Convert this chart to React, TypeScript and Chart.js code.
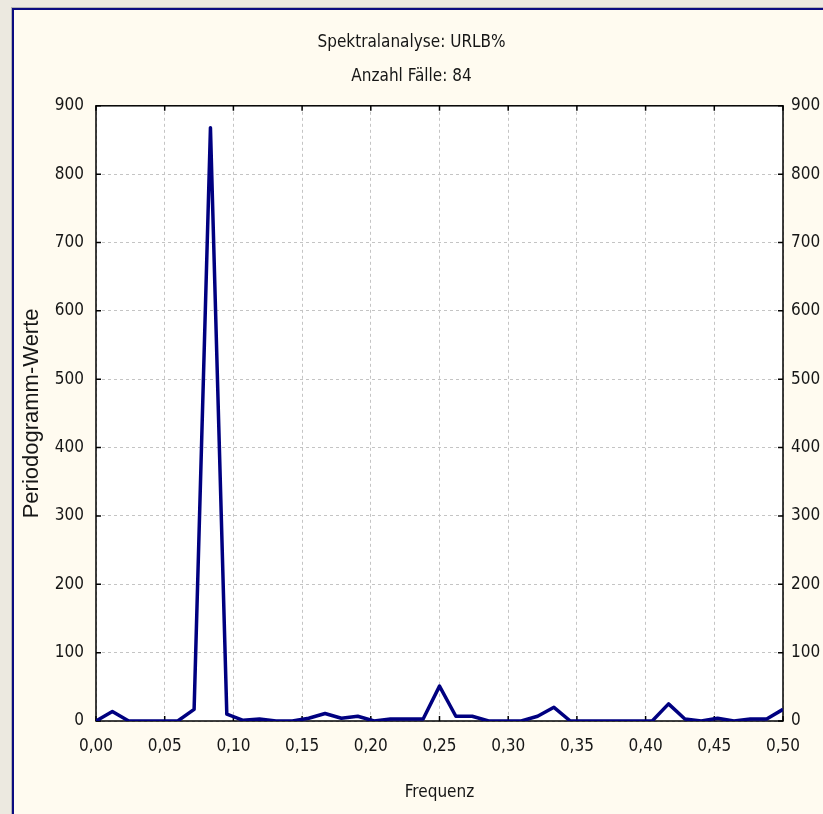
import React, { useEffect, useRef } from "react";
import { Chart, registerables } from "chart.js";

Chart.register(...registerables);

// Frequencies (k / 84, k = 0..42)
const frequencies: number[] = [
  0, 0.0119, 0.0238, 0.0357, 0.0476, 0.0595, 0.0714, 0.0833, 0.0952, 0.1071,
  0.119, 0.131, 0.1429, 0.1548, 0.1667, 0.1786, 0.1905, 0.2024, 0.2143, 0.2262,
  0.2381, 0.25, 0.2619, 0.2738, 0.2857, 0.2976, 0.3095, 0.3214, 0.3333, 0.3452,
  0.3571, 0.369, 0.381, 0.3929, 0.4048, 0.4167, 0.4286, 0.4405, 0.4524, 0.4643,
  0.4762, 0.4881, 0.5,
];

// Periodogram values
const periodogram: number[] = [
  0, 14, 0, 0, 0, 0, 17, 868, 10, 1,
  3, 0, 0, 4, 11, 4, 7, 0, 3, 3,
  3, 51, 7, 7, 0, 0, 0, 7, 20, 0,
  0, 0, 0, 0, 0, 25, 3, 0, 4, 0,
  3, 3, 17,
];

const titleText = "Spektralanalyse: URLB%";
const subtitleText = "Anzahl Fälle: 84";
const xTitle = "Frequenz";
const yTitle = "Periodogramm-Werte";

const NARROW = "'DejaVu Sans Condensed', 'Liberation Sans', sans-serif";
const REGULAR = "'Liberation Sans', Arial, sans-serif";
const TEXT = "#161616";
const FS = 17;

const framePlugin = {
  id: "frameTicks",
  beforeDraw(chart: any) {
    const { ctx, chartArea: a } = chart;
    ctx.save();
    ctx.fillStyle = "#ffffff";
    ctx.fillRect(a.left, a.top, a.right - a.left, a.bottom - a.top);
    ctx.restore();
  },
  beforeDatasetsDraw(chart: any) {
    const { ctx, chartArea: a, scales } = chart;
    ctx.save();
    ctx.strokeStyle = "#000000";
    ctx.lineWidth = 1.5;
    ctx.strokeRect(a.left, a.top, a.right - a.left, a.bottom - a.top);
    const L = 5;
    ctx.beginPath();
    scales.x.ticks.forEach((t: any) => {
      const px = scales.x.getPixelForValue(t.value);
      ctx.moveTo(px, a.bottom);
      ctx.lineTo(px, a.bottom - L);
      ctx.moveTo(px, a.top);
      ctx.lineTo(px, a.top + L);
    });
    scales.y.ticks.forEach((t: any) => {
      const py = scales.y.getPixelForValue(t.value);
      ctx.moveTo(a.left, py);
      ctx.lineTo(a.left + L, py);
      ctx.moveTo(a.right, py);
      ctx.lineTo(a.right - L, py);
    });
    ctx.stroke();
    ctx.restore();
  },
};

export default function App() {
  const ref = useRef<HTMLCanvasElement | null>(null);

  useEffect(() => {
    if (!ref.current) return;
    const gridCommon = {
      color: "#c4c4c4",
      lineWidth: 1,
      drawTicks: false,
    };
    const chart = new Chart(ref.current, {
      type: "line",
      data: {
        datasets: [
          {
            data: frequencies.map((f, i) => ({ x: f, y: periodogram[i] })),
            borderColor: "#000080",
            borderWidth: 3.5,
            borderJoinStyle: "round",
            pointRadius: 0,
            tension: 0,
            fill: false,
          },
        ],
      },
      options: {
        animation: false,
        responsive: false,
        layout: { padding: 0 },
        plugins: {
          legend: { display: false },
          tooltip: { enabled: false },
          title: {
            display: true,
            text: titleText,
            color: TEXT,
            font: { family: NARROW, size: FS, weight: "normal" },
            padding: { top: 32, bottom: 7 },
          },
          subtitle: {
            display: true,
            text: subtitleText,
            color: TEXT,
            font: { family: NARROW, size: FS, weight: "normal" },
            padding: { top: 7, bottom: 19 },
          },
        },
        scales: {
          x: {
            type: "linear",
            min: 0,
            max: 0.5,
            grid: gridCommon,
            border: { display: false, dash: [3, 3] },
            ticks: {
              stepSize: 0.05,
              color: TEXT,
              padding: 15,
              maxRotation: 0,
              font: { family: NARROW, size: FS },
              callback: (v: any) => (Math.round(Number(v) * 100) / 100).toFixed(2).replace(".", ","),
            },
            title: {
              display: true,
              text: xTitle,
              color: TEXT,
              font: { family: NARROW, size: FS },
              padding: { top: 0, bottom: 11 },
            },
            afterFit: (s: any) => {
              s.height = 93;
            },
          },
          y: {
            type: "linear",
            position: "left",
            min: 0,
            max: 900,
            grid: gridCommon,
            border: { display: false, dash: [3, 3] },
            ticks: {
              stepSize: 100,
              color: TEXT,
              padding: 12,
              font: { family: NARROW, size: FS },
            },
            title: {
              display: true,
              text: yTitle,
              color: TEXT,
              font: { family: REGULAR, size: 22 },
              padding: { top: 19, bottom: 0 },
            },
            afterFit: (s: any) => {
              s.width = 96;
            },
          },
          y2: {
            type: "linear",
            position: "right",
            min: 0,
            max: 900,
            grid: { display: false, drawTicks: false },
            border: { display: false },
            ticks: {
              stepSize: 100,
              color: TEXT,
              padding: 8,
              font: { family: NARROW, size: FS },
            },
            afterFit: (s: any) => {
              s.width = 40;
            },
          },
        },
      } as any,
      plugins: [framePlugin],
    });
    return () => chart.destroy();
  }, []);

  return (
    <div
      style={{
        position: "fixed",
        left: 0,
        top: 0,
        width: 823,
        height: 814,
        background: "#ECE9E0",
        overflow: "hidden",
      }}
    >
      <div
        style={{
          position: "absolute",
          left: 11,
          top: 7,
          right: 0,
          bottom: 0,
          background: "#b4b4b4",
        }}
      >
        <div
          style={{
            position: "absolute",
            left: 1,
            top: 1,
            right: 0,
            bottom: 0,
            background: "#FFFBF0",
            borderLeft: "2px solid #0b0b80",
            borderTop: "2px solid #0b0b80",
          }}
        />
      </div>
      <canvas
        ref={ref}
        width={823}
        height={814}
        style={{ position: "absolute", left: 0, top: 0 }}
      />
    </div>
  );
}
